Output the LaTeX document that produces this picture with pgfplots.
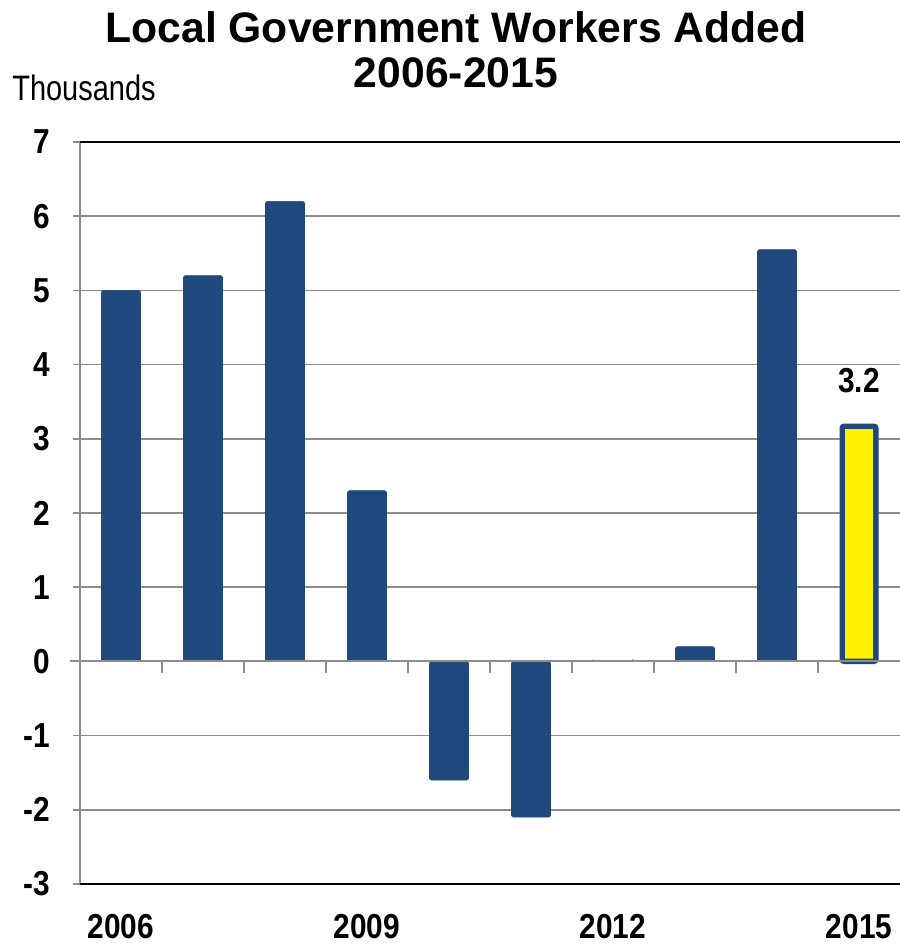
\documentclass[border=0pt]{standalone}
\usepackage{fontspec}
\setmainfont{Liberation Sans}
\newfontfamily\narrowfont{Liberation Sans}[FakeStretch=0.86]
\newfontfamily\thfont{Liberation Sans}[FakeStretch=0.82]
\usepackage{pgfplots}
\pgfplotsset{compat=1.18}
\definecolor{barblue}{RGB}{31,73,125}
\definecolor{gridgray}{RGB}{140,140,140}
\begin{document}
\begin{tikzpicture}
\useasboundingbox (0,0) rectangle (675pt,710.25pt);
\begin{axis}[
  at={(60pt,47.25pt)}, anchor=south west,
  scale only axis, width=615pt, height=556.5pt,
  xmin=-0.5, xmax=9.5, ymin=-3, ymax=7,
  ytick={-3,...,7},
  xtick={0,3,6,9}, xticklabels={2006,2009,2012,2015},
  x tick style={draw=none},
  y tick style={gridgray, line width=1.2pt},
  tick align=outside, major tick length=5pt,
  ymajorgrids, grid style={gridgray, line width=1.2pt},
  axis line style={gridgray, line width=1.5pt},
  axis x line=none,
  axis y line*=left,
  separate axis lines,
  tick label style={font=\narrowfont\bfseries\fontsize{26}{28}\selectfont},
  /pgf/number format/assume math mode=true,
  yticklabel style={xshift=-14pt},
  clip=false,
]
\addplot[black, line width=1.8pt, forget plot] coordinates {(-0.5,7) (9.5,7)};
\addplot[black, line width=1.8pt, forget plot] coordinates {(-0.5,-3) (9.5,-3)};
\addplot[ybar, bar width=29.25pt, fill=barblue, draw=barblue, rounded corners=1.5pt, bar shift=0pt] coordinates {
  (0,5.0) (1,5.2) (2,6.2) (3,2.3) (4,-1.6) (5,-2.1) (6,0) (7,0.2) (8,5.55)};
\addplot[ybar, bar width=25.25pt, fill=yellow, draw=barblue, line width=4pt, rounded corners=1.5pt, bar shift=0pt] coordinates {(9,3.17)};
\addplot[gridgray, line width=1.5pt] coordinates {(-0.62,0) (9.5,0)};
\addplot[ycomb, gridgray, line width=1.2pt, mark=none] coordinates {(0.5,-0.15) (1.5,-0.15) (2.5,-0.15) (3.5,-0.15) (4.5,-0.15) (5.5,-0.15) (6.5,-0.15) (7.5,-0.15) (8.5,-0.15)};
\node[font=\narrowfont\bfseries\fontsize{26}{28}\selectfont] at (axis cs:9,3.78) {3.2};
\node[font=\narrowfont\bfseries\fontsize{26}{28}\selectfont, anchor=north] at (axis cs:0,-3.35) {2006};
\node[font=\narrowfont\bfseries\fontsize{26}{28}\selectfont, anchor=north] at (axis cs:3,-3.35) {2009};
\node[font=\narrowfont\bfseries\fontsize{26}{28}\selectfont, anchor=north] at (axis cs:6,-3.35) {2012};
\node[font=\narrowfont\bfseries\fontsize{26}{28}\selectfont, anchor=north] at (axis cs:9,-3.35) {2015};
\end{axis}
\node[font=\bfseries\fontsize{32}{34}\selectfont] at (342pt,690pt) {Local Government Workers Added};
\node[font=\bfseries\fontsize{32}{34}\selectfont] at (342pt,655.5pt) {2006-2015};
\node[font=\thfont\fontsize{26.5}{28}\selectfont] at (63pt,644pt) {Thousands};
\end{tikzpicture}
\end{document}
